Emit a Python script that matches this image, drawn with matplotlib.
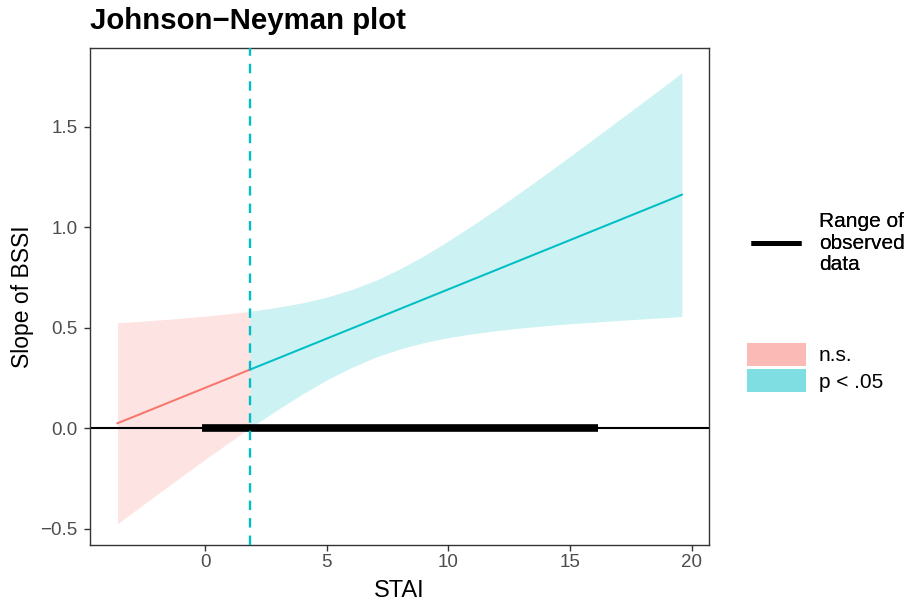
import matplotlib
matplotlib.use("Agg")
import matplotlib.pyplot as plt
from matplotlib.lines import Line2D
from matplotlib.patches import Patch

plt.rcParams['font.family'] = ['Liberation Sans', 'DejaVu Sans']

# ---- data ----
stai = [-3.6, -3, -2, -1, 0, 1, 1.85, 3, 4, 5, 6, 7, 8, 9, 10, 11, 12, 13, 14, 15, 16, 17, 18, 19, 19.6]
slope = [0.025, 0.054, 0.103, 0.152, 0.201, 0.250, 0.292, 0.348, 0.397, 0.446, 0.495, 0.544, 0.593,
         0.642, 0.691, 0.740, 0.789, 0.838, 0.887, 0.936, 0.985, 1.034, 1.083, 1.132, 1.162]
ci_upper = [0.525, 0.529, 0.538, 0.547, 0.558, 0.570, 0.582, 0.602, 0.624, 0.652, 0.689, 0.735, 0.792,
            0.858, 0.932, 1.010, 1.092, 1.177, 1.264, 1.352, 1.442, 1.532, 1.622, 1.713, 1.769]
ci_lower = [-0.475, -0.421, -0.332, -0.243, -0.155, -0.070, 0.002, 0.094, 0.170, 0.240, 0.301, 0.353, 0.394,
            0.426, 0.451, 0.470, 0.486, 0.499, 0.510, 0.520, 0.528, 0.536, 0.544, 0.551, 0.556]
jn_point = 1.85
observed_range = [-0.12, 16.15]
x_ticks = [0, 5, 10, 15, 20]
y_ticks = [-0.5, 0.0, 0.5, 1.0, 1.5]
y_tick_labels = ["\u22120.5", "0.0", "0.5", "1.0", "1.5"]
legend_labels_sig = ["n.s.", "p < .05"]

col_ns = "#F8766D"
col_sig = "#00BFC4"

fig = plt.figure(figsize=(9.1, 6.03), dpi=100)
ax = fig.add_axes([90 / 910, 1 - 545 / 603, (709.3 - 90) / 910, (545 - 48) / 603])

k = stai.index(jn_point)
ns_x, sig_x = stai[:k + 1], stai[k:]

ax.fill_between(ns_x, ci_lower[:k + 1], ci_upper[:k + 1], color=col_ns, alpha=0.2, lw=0)
ax.fill_between(sig_x, ci_lower[k:], ci_upper[k:], color=col_sig, alpha=0.2, lw=0)

ax.axhline(0, color="black", lw=1.5, zorder=2)
ax.plot(observed_range, [0, 0], color="black", lw=5.5, solid_capstyle="butt", zorder=3)

ax.plot(ns_x, slope[:k + 1], color=col_ns, lw=1.45, zorder=4)
ax.plot(sig_x, slope[k:], color=col_sig, lw=1.45, zorder=4)

vl = ax.axvline(jn_point, color=col_sig, lw=1.7, zorder=5)
vl.set_dashes([4.0, 3.4])

ax.set_xlim(-4.73, 20.73)
ax.set_ylim(-0.581, 1.892)
ax.set_xticks(x_ticks)
ax.set_xticklabels([str(t) for t in x_ticks])
ax.set_yticks(y_ticks)
ax.set_yticklabels(y_tick_labels)

for s in ax.spines.values():
    s.set_color("#333333")
    s.set_linewidth(1.0)
ax.tick_params(axis="both", length=4.3, width=1.0, color="#333333",
               labelcolor="#4D4D4D", labelsize=13.5)
ax.tick_params(axis="y", pad=4.5)
ax.tick_params(axis="x", pad=2.5)

ax.set_xlabel("STAI", fontsize=17, color="black", labelpad=6)
ax.set_ylabel("Slope of BSSI", fontsize=16.5, color="black", labelpad=5)

fig.text(90 / 910, 1 - 21 / 603, "Johnson\u2212Neyman plot", fontsize=21.2,
         fontweight="bold", ha="left", va="center")

fs = 15
leg1 = fig.legend(handles=[Line2D([0], [0], color="black", lw=3.6, solid_capstyle="butt")],
                  labels=["Range of\nobserved\ndata"], loc="center left",
                  bbox_to_anchor=(750.7 / 910, 1 - 243 / 603), frameon=False, fontsize=fs,
                  borderpad=0, borderaxespad=0, handlelength=50 / 20.83, handletextpad=0.88)
for t in leg1.get_texts():
    t.set_linespacing(1.17)

leg2 = fig.legend(handles=[Patch(facecolor=col_ns, alpha=0.5, lw=0),
                           Patch(facecolor=col_sig, alpha=0.5, lw=0)],
                  labels=legend_labels_sig, loc="center left",
                  bbox_to_anchor=(747 / 910, 1 - 367.5 / 603), frameon=False, fontsize=fs,
                  borderpad=0, borderaxespad=0, handlelength=59 / 20.83, handleheight=28 / 20.83,
                  handletextpad=0.62, labelspacing=0.144)
fig.add_artist(leg1)

fig.savefig("out.png", dpi=100)
